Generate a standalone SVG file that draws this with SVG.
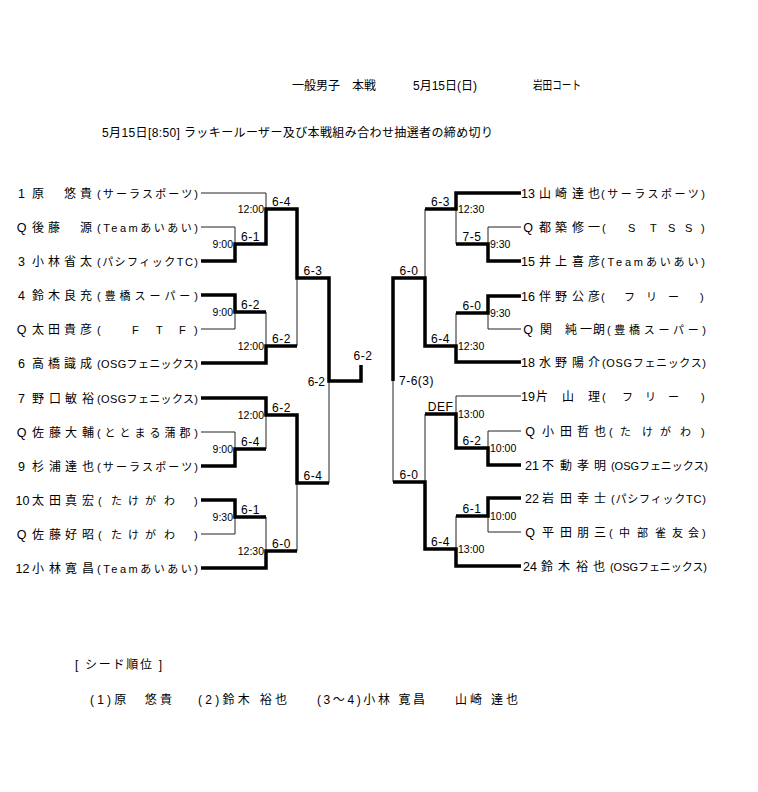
<svg xmlns="http://www.w3.org/2000/svg" width="758" height="792" viewBox="0 0 758 792">
<style>
text{font-family:"Liberation Sans","Noto Sans CJK JP",sans-serif;fill:#000}
.hd{font-size:12px}
.num{font-size:12.5px;text-anchor:middle}
.nm{font-size:12px;font-family:"Noto Sans CJK JP",sans-serif}
.af{font-size:11px}
.sc{font-size:12px;text-anchor:middle;letter-spacing:0.5px}
.scr{font-size:12px;text-anchor:end}
.tl{font-size:10.5px;text-anchor:end}
.tr{font-size:10.5px}
.thin{fill:none;stroke:#222;stroke-width:1}
.thick{fill:none;stroke:#000;stroke-width:3.5;stroke-linejoin:miter}
</style>
<rect width="758" height="792" fill="#fff"/>

<g id="header">
<text class="hd" x="292" y="90">一般男子　本戦</text>
<text class="hd" x="413" y="90">5月15日(日)</text>
<text class="hd" x="533" y="90" textLength="48" lengthAdjust="spacingAndGlyphs">岩田コート</text>
<text class="hd" x="102" y="137" textLength="391">5月15日[8:50] ラッキールーザー及び本戦組み合わせ抽選者の締め切り</text>
</g>

<g id="connectors">
<path class="thin" d="M201,193 H266 V209"/>
<path class="thin" d="M201,227 H235 V244"/>
<path class="thin" d="M201,329 H235 V312"/>
<path class="thin" d="M266,312 V346"/>
<path class="thin" d="M297,278 V346"/>
<path class="thin" d="M201,432 H235 V449"/>
<path class="thin" d="M266,415 V449"/>
<path class="thin" d="M201,534 H235 V517"/>
<path class="thin" d="M266,517 V551"/>
<path class="thin" d="M297,483 V551"/>
<path class="thin" d="M329,381 V483"/>
<path class="thick" d="M201,261 H235 V244 H266 V209 H297 V278 H329 V381 H361 V365"/>
<path class="thick" d="M201,295 H235 V312 H266"/>
<path class="thick" d="M201,363 H266 V346 H297"/>
<path class="thick" d="M201,398 H266 V415 H297 V483 H329"/>
<path class="thick" d="M201,466 H235 V449 H266"/>
<path class="thick" d="M201,500 H235 V517 H266"/>
<path class="thick" d="M201,568 H266 V551 H297"/>
<path class="thin" d="M521,227 H488 V244"/>
<path class="thin" d="M456,209 V244"/>
<path class="thin" d="M521,329 H488 V313"/>
<path class="thin" d="M456,313 V346"/>
<path class="thin" d="M425,209 V278"/>
<path class="thin" d="M521,396 H456 V414"/>
<path class="thin" d="M521,431 H488 V448"/>
<path class="thin" d="M521,532 H488 V516"/>
<path class="thin" d="M456,516 V549"/>
<path class="thin" d="M425,414 V482"/>
<path class="thin" d="M393,381 V482"/>
<path class="thick" d="M521,193 H456 V209 H425"/>
<path class="thick" d="M521,261 H488 V244 H456"/>
<path class="thick" d="M521,296 H488 V313 H456"/>
<path class="thick" d="M521,362 H456 V346 H425 V278 H393 V381"/>
<path class="thick" d="M521,465 H488 V448 H456 V414 H425"/>
<path class="thick" d="M521,498 H488 V516 H456"/>
<path class="thick" d="M521,566 H456 V549 H425 V482 H393"/>
</g>

<g id="scores">
<text class="sc" x="250.5" y="241">6-1</text>
<text class="sc" x="281.5" y="206">6-4</text>
<text class="sc" x="250.5" y="309">6-2</text>
<text class="sc" x="281.5" y="343">6-2</text>
<text class="sc" x="313" y="275">6-3</text>
<text class="sc" x="281.5" y="412">6-2</text>
<text class="sc" x="250.5" y="446">6-4</text>
<text class="sc" x="250.5" y="514">6-1</text>
<text class="sc" x="281.5" y="548">6-0</text>
<text class="sc" x="313" y="480">6-4</text>
<text class="scr" x="325" y="386">6-2</text>
<text class="sc" x="363" y="360">6-2</text>
<text class="sc" x="440.5" y="206">6-3</text>
<text class="sc" x="472" y="241">7-5</text>
<text class="sc" x="472" y="310">6-0</text>
<text class="sc" x="440.5" y="343">6-4</text>
<text class="sc" x="409" y="275">6-0</text>
<text class="sc" x="440.5" y="411">DEF</text>
<text class="sc" x="472" y="445">6-2</text>
<text class="sc" x="472" y="513">6-1</text>
<text class="sc" x="440.5" y="546">6-4</text>
<text class="sc" x="409" y="479">6-0</text>
<text class="sc" x="399" y="385" style="text-anchor:start">7-6(3)</text>
</g>

<g id="times">
<text class="tl" x="264" y="213">12:00</text>
<text class="tl" x="233" y="248">9:00</text>
<text class="tl" x="233" y="316">9:00</text>
<text class="tl" x="264" y="350">12:00</text>
<text class="tl" x="264" y="419">12:00</text>
<text class="tl" x="233" y="453">9:00</text>
<text class="tl" x="233" y="521">9:30</text>
<text class="tl" x="264" y="555">12:30</text>
<text class="tr" x="458" y="213">12:30</text>
<text class="tr" x="490" y="248">9:30</text>
<text class="tr" x="490" y="317">9:30</text>
<text class="tr" x="458" y="350">12:30</text>
<text class="tr" x="458" y="418">13:00</text>
<text class="tr" x="490" y="452">10:00</text>
<text class="tr" x="490" y="520">10:00</text>
<text class="tr" x="458" y="553">13:00</text>
</g>

<g id="p1"><text class="num" x="21.5" y="197.5">1</text><text class="nm" x="32 48 64 80" y="197.5">原　悠貴</text><text class="af" x="97" y="197.5" textLength="101">(サーラスポーツ)</text></g>
<g id="p2"><text class="num" x="21.5" y="231.5">Q</text><text class="nm" x="32 48 64 80" y="231.5">後藤　源</text><text class="af" x="97" y="231.5" textLength="101">(Teamあいあい)</text></g>
<g id="p3"><text class="num" x="21.5" y="265.5">3</text><text class="nm" x="32 48 64 80" y="265.5">小林省太</text><text class="af" x="97" y="265.5" textLength="101">(パシフィックTC)</text></g>
<g id="p4"><text class="num" x="21.5" y="299.5">4</text><text class="nm" x="32 48 64 80" y="299.5">鈴木良充</text><text class="af" x="97" y="299.5" textLength="101">(豊橋スーパー)</text></g>
<g id="p5"><text class="num" x="21.5" y="333.5">Q</text><text class="nm" x="32 48 64 80" y="333.5">太田貴彦</text><text class="af" x="97 132 156 179 194" y="333.5">(FTF)</text></g>
<g id="p6"><text class="num" x="21.5" y="367.5">6</text><text class="nm" x="32 48 64 80" y="367.5">高橋識成</text><text class="af" x="97" y="367.5" textLength="101">(OSGフェニックス)</text></g>
<g id="p7"><text class="num" x="21.5" y="402.5">7</text><text class="nm" x="32 49 65 82" y="402.5">野口敏裕</text><text class="af" x="97" y="402.5" textLength="101">(OSGフェニックス)</text></g>
<g id="p8"><text class="num" x="21.5" y="436.5">Q</text><text class="nm" x="32 49 65 82" y="436.5">佐藤大輔</text><text class="af" x="97" y="436.5" textLength="101">(ととまる蒲郡)</text></g>
<g id="p9"><text class="num" x="21.5" y="470.5">9</text><text class="nm" x="32 49 65 82" y="470.5">杉浦達也</text><text class="af" x="97" y="470.5" textLength="101">(サーラスポーツ)</text></g>
<g id="p10"><text class="num" x="22.5" y="504.5">10</text><text class="nm" x="32 49 65 82" y="504.5">太田真宏</text><text class="af" x="98 111 128 145 164 194" y="504.5">(たけがわ)</text></g>
<g id="p11"><text class="num" x="21.5" y="538.5">Q</text><text class="nm" x="32 49 65 82" y="538.5">佐藤好昭</text><text class="af" x="98 111 128 145 164 194" y="538.5">(たけがわ)</text></g>
<g id="p12"><text class="num" x="22.5" y="572.5">12</text><text class="nm" x="32 49 65 82" y="572.5">小林寛昌</text><text class="af" x="97" y="572.5" textLength="101">(Teamあいあい)</text></g>

<g id="p13"><text class="num" x="528" y="197.5">13</text><text class="nm" x="539 555 572 588" y="197.5">山崎達也</text><text class="af" x="601" y="197.5" textLength="104">(サーラスポーツ)</text></g>
<g id="p14"><text class="num" x="528" y="231.5">Q</text><text class="nm" x="539 555 572 588" y="231.5">都築修一</text><text class="af" x="602 628 650 668 685 701" y="231.5">(STSS)</text></g>
<g id="p15"><text class="num" x="528" y="265.5">15</text><text class="nm" x="539 555 572 588" y="265.5">井上喜彦</text><text class="af" x="601" y="265.5" textLength="104">(Teamあいあい)</text></g>
<g id="p16"><text class="num" x="528" y="300.5">16</text><text class="nm" x="539 555 572 588" y="300.5">伴野公彦</text><text class="af" x="601 624 646 668 700" y="300.5">(フリー)</text></g>
<g id="p17"><text class="num" x="528" y="333.5">Q</text><text class="nm" x="540 552 565 580 593" y="333.5">関　純一朗</text><text class="af" x="607" y="333.5" textLength="99">(豊橋スーパー)</text></g>
<g id="p18"><text class="num" x="528" y="366.5">18</text><text class="nm" x="539 555 572 588" y="366.5">水野陽介</text><text class="af" x="602" y="366.5" textLength="104">(OSGフェニックス)</text></g>
<g id="p19"><text class="num" x="528" y="400.5">19</text><text class="nm" x="536 562 575 588" y="400.5">片山　理</text><text class="af" x="602 622 645 668 701" y="400.5">(フリー)</text></g>
<g id="p20"><text class="num" x="530" y="435.5">Q</text><text class="nm" x="542 560 577 594" y="435.5">小田哲也</text><text class="af" x="609 620 642 660 680 701" y="435.5">(たけがわ)</text></g>
<g id="p21"><text class="num" x="532" y="469.5">21</text><text class="nm" x="542 560 577 594" y="469.5">不動孝明</text><text class="af" x="611" y="469.5" textLength="97">(OSGフェニックス)</text></g>
<g id="p22"><text class="num" x="532" y="502.5">22</text><text class="nm" x="542 560 577 594" y="502.5">岩田幸士</text><text class="af" x="611" y="502.5" textLength="95">(パシフィックTC)</text></g>
<g id="p23"><text class="num" x="530" y="536.5">Q</text><text class="nm" x="542 560 577 594" y="536.5">平田朋三</text><text class="af" x="609 619 637 655 672 688 702" y="536.5">(中部雀友会)</text></g>
<g id="p24"><text class="num" x="530" y="570.5">24</text><text class="nm" x="541 558 576 593" y="570.5">鈴木裕也</text><text class="af" x="610" y="570.5" textLength="97">(OSGフェニックス)</text></g>

<g id="footer">
<text class="hd" x="75" y="669" textLength="87">[ シード順位 ]</text>
<text class="hd" x="90" y="704" textLength="82">(1)原　悠貴</text>
<text class="hd" x="198" y="704" textLength="89">(2)鈴木 裕也</text>
<text class="hd" x="317" y="704" textLength="108">(3～4)小林 寛昌</text>
<text class="hd" x="455" y="704" textLength="63">山崎 達也</text>
</g>
</svg>
